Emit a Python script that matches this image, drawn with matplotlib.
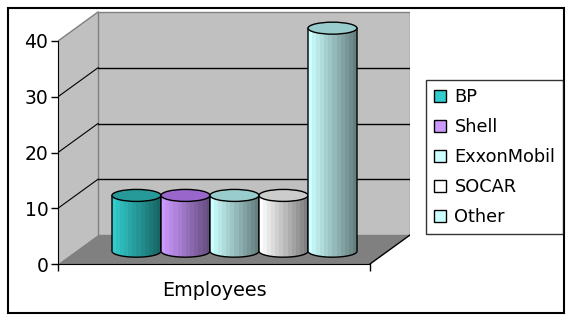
import numpy as np
import matplotlib
matplotlib.use("Agg")
import matplotlib.pyplot as plt
from matplotlib.patches import Polygon, Ellipse, Rectangle, Patch
from matplotlib.colors import to_rgb

# data
category = "Employees"
series = ["BP", "Shell", "ExxonMobil", "SOCAR", "Other"]
values = [10, 10, 10, 10, 40]
colors = ["#33cccc", "#cc99ff", "#ccffff", "#ffffff", "#ccffff"]
top_colors = ["#269999", "#9966cc", "#99cccc", "#cccccc", "#99cccc"]
yticks = [0, 10, 20, 30, 40]

W, H = 573, 321
fig = plt.figure(figsize=(W / 100, H / 100), dpi=100)

# plot area (front floor edge = x 0..1)
px_per_unit = 223 / 40
ax = fig.add_axes([58 / W, (H - 264) / H, 352 / W, 256 / H])
ax.patch.set_visible(False)

DX = 40 / 312                # depth offset in x units
DY = 29 / px_per_unit        # depth offset in y units
ymax = yticks[-1]

wall = "#c0c0c0"
edge = "#808080"
# side wall, back wall, floor
ax.add_patch(Polygon([(0, 0), (0, ymax), (DX, ymax + DY), (DX, DY)],
                     closed=True, fc=wall, ec="none", zorder=0))
ax.add_patch(Polygon([(DX, DY), (DX, ymax + DY), (1 + DX, ymax + DY), (1 + DX, DY)],
                     closed=True, fc=wall, ec=edge, lw=1, zorder=0))
ax.add_patch(Polygon([(0, 0), (1, 0), (1 + DX, DY), (DX, DY)],
                     closed=True, fc="#808080", ec="none", zorder=0.5))
ax.plot([0, DX], [ymax, ymax + DY], color=edge, lw=1, zorder=1)
ax.plot([1, 1 + DX], [0, DY], color="black", lw=1, zorder=1)

# gridlines
for v in yticks[1:-1]:
    ax.plot([DX, 1 + DX], [v + DY, v + DY], color="black", lw=1, zorder=1)
    ax.plot([0, DX], [v, v + DY], color="black", lw=0.8, zorder=1)

# cylinders
bw = 49 / 312
gap = 34 / 312
b = 6 / px_per_unit          # half height of ellipse
shade = np.linspace(1.0, 0.5, 12)
for i, (name, val) in enumerate(zip(series, values)):
    cx = gap + (i + 0.5) * bw + DX / 2
    yb = DY / 2 - 0.3
    yt = yb + val
    a = bw / 2
    t = np.linspace(np.pi, 2 * np.pi, 60)
    pts = [(cx - a, yt)] + list(zip(cx + a * np.cos(t), yb + b * np.sin(t))) + [(cx + a, yt)]
    body = Polygon(pts, closed=True, fc="none", ec="black", lw=1, zorder=3 + i + 0.2)
    ax.add_patch(body)
    c = np.array(to_rgb(colors[i]))
    img = np.array([[c * s for s in shade]])
    im = ax.imshow(img, extent=(cx - a, cx + a, yb - b, yt), aspect="auto",
                   interpolation="nearest", zorder=3 + i)
    im.set_clip_path(body)
    ax.add_patch(Ellipse((cx, yt), 2 * a, 2 * b, fc=top_colors[i], ec="black",
                         lw=1, zorder=3 + i + 0.3))

ax.set_xlim(0, 352 / 312)
ax.set_ylim(0, 256 / px_per_unit)

# axes
for s in ["top", "right"]:
    ax.spines[s].set_visible(False)
ax.spines["left"].set_bounds(0, ymax)
ax.spines["bottom"].set_bounds(0, 1)
ax.spines["left"].set_zorder(10)
ax.spines["bottom"].set_zorder(10)
ax.set_yticks(yticks)
ax.tick_params(axis="y", labelsize=13.5, length=5, width=1, pad=2)
ax.set_xticks([0, 1], labels=["", ""])
ax.set_xticks([0.5], labels=[category], minor=True)
ax.tick_params(axis="x", which="major", length=5, width=1)
ax.tick_params(axis="x", which="minor", length=0, pad=12, labelsize=13.8)

# legend
handles = [Patch(facecolor=c, edgecolor="black", lw=1) for c in colors]
leg = fig.legend(handles, series, loc="upper left",
                 bbox_to_anchor=(426 / W, 1 - 80 / H), bbox_transform=fig.transFigure,
                 frameon=True, fancybox=False, fontsize=12.8,
                 handlelength=0.7, handleheight=0.7, handletextpad=0.45,
                 labelspacing=0.68, borderpad=0.45, borderaxespad=0)
leg.get_frame().set_edgecolor("black")
leg.get_frame().set_linewidth(1)

# outer border
fig.patches.append(Rectangle((8 / W, 1 - 313 / H), (564 - 8) / W, (313 - 8) / H,
                             transform=fig.transFigure, fill=False, ec="black", lw=1.5))

fig.savefig("out.png", dpi=100)
